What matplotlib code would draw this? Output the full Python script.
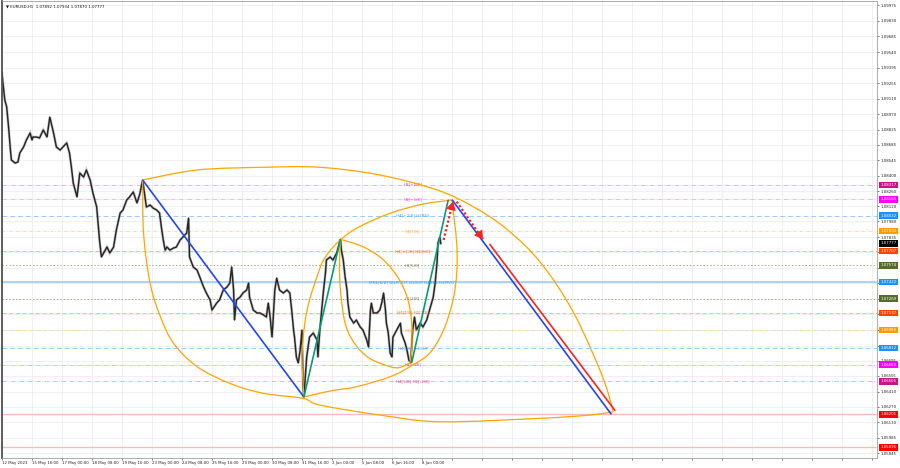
import numpy as np
import matplotlib
matplotlib.use("Agg")
import matplotlib.pyplot as plt
from matplotlib.path import Path
from matplotlib.patches import PathPatch
import matplotlib.transforms as mtrans

plt.rcParams['font.family'] = ['DejaVu Sans']

# ---------------- data (bar index = H1 bars since 12 May 2023 08:00) ----------------
price_bars = [0, 1, 3, 5, 7, 9, 10, 14, 17, 19, 23, 26, 30, 32, 33, 37, 40, 44, 48, 51,
              55, 58, 62, 65, 69, 72, 74, 76, 80, 83, 87, 90, 94, 97, 101, 104, 106, 112, 115, 119,
              122, 126, 129, 133, 136, 140, 144, 147, 150, 154, 158, 161, 165, 168, 170, 172, 174, 176, 179, 183,
              186, 190, 193, 197, 199, 200, 204, 208, 211, 215, 218, 222, 224, 229, 232, 236, 240, 243, 245, 247,
              248, 250, 254, 257, 261, 263, 264, 268, 272, 275, 279, 282, 284, 286, 288, 289, 291, 293, 296, 300,
              304, 307, 309, 311, 312, 314, 316, 318, 320, 321, 322, 325, 328, 332, 336, 337, 339, 343, 345, 346,
              350, 353, 357, 361, 362, 364, 366, 368, 369, 371, 375, 378, 382, 385, 389, 391, 393, 394, 396, 400,
              403, 405, 407, 409, 410, 412, 414, 416, 417, 421, 425, 426, 430, 432, 434, 436, 438, 440, 442, 446,
              449, 453, 457, 460, 462, 464, 465, 467, 468]
price_vals = [1.09348, 1.09256, 1.09099, 1.09035, 1.08850, 1.08638, 1.08546, 1.08518, 1.08528, 1.08611,
              1.08666, 1.08730, 1.08795, 1.08730, 1.08758, 1.08758, 1.08749, 1.08823, 1.08758, 1.08942,
              1.08795, 1.08666, 1.08638, 1.08666, 1.08703, 1.08611, 1.08482, 1.08334, 1.08205, 1.08426,
              1.08389, 1.08454, 1.08362, 1.08242, 1.08113, 1.07809, 1.07652, 1.07744, 1.07689, 1.07744,
              1.07901, 1.08057, 1.08085, 1.08177, 1.08205, 1.08251, 1.08150, 1.08233, 1.08362, 1.08113,
              1.08131, 1.08104, 1.08085, 1.08057, 1.07928, 1.07809, 1.07716, 1.07744, 1.07716, 1.07735,
              1.07744, 1.07809, 1.07836, 1.07873, 1.08011, 1.07652, 1.07560, 1.07532, 1.07467, 1.07375,
              1.07320, 1.07255, 1.07163, 1.07228, 1.07255, 1.07348, 1.07375, 1.07412, 1.07560, 1.07348,
              1.07071, 1.07255, 1.07283, 1.07320, 1.07348, 1.07412, 1.07283, 1.07163, 1.07136, 1.07136,
              1.07117, 1.07099, 1.07228, 1.07099, 1.06914, 1.07043, 1.07348, 1.07458, 1.07348, 1.07320,
              1.07348, 1.07320, 1.07163, 1.06979, 1.06914, 1.06730, 1.06675, 1.06794, 1.06979, 1.06490,
              1.06361, 1.06730, 1.06914, 1.06951, 1.06887, 1.06730, 1.06979, 1.07348, 1.07504, 1.07624,
              1.07652, 1.07624, 1.07689, 1.07815, 1.07716, 1.07624, 1.07467, 1.07348, 1.07228, 1.07099,
              1.07043, 1.07071, 1.07007, 1.06979, 1.06887, 1.06822, 1.07163, 1.07228, 1.07136, 1.07136,
              1.07163, 1.07228, 1.07320, 1.07163, 1.07043, 1.06951, 1.06767, 1.06730, 1.06914, 1.06979,
              1.07043, 1.06951, 1.06859, 1.06794, 1.06700, 1.06680, 1.06979, 1.07099, 1.06979, 1.07043,
              1.07007, 1.07071, 1.07191, 1.07283, 1.07412, 1.07597, 1.07781, 1.07836, 1.07777]

title_text = "\u25BC EURUSD,H1  1.07892 1.07934 1.07870 1.07777"
last_price = 1.07777

xtick_bars = [0, 32, 64, 96, 128, 160, 192, 224, 256, 288, 320, 352, 384, 416, 448]
xtick_labels = ["12 May 2023", "15 May 16:00", "17 May 00:00", "18 May 08:00", "19 May 16:00",
                "23 May 00:00", "24 May 08:00", "25 May 16:00", "29 May 00:00", "30 May 08:00",
                "31 May 16:00", "2 Jun 00:00", "5 Jun 08:00", "6 Jun 16:00", "8 Jun 00:00"]
future_grid_bars = [480, 512, 544, 576, 608, 640, 672, 704, 736, 768, 800, 832, 864, 896, 928]

ytick_vals = [1.09975, 1.09830, 1.09685, 1.09540, 1.09395, 1.09255, 1.09110, 1.08970, 1.08825, 1.08685,
              1.08545, 1.08400, 1.08260, 1.08120, 1.07980, 1.07835, 1.07695, 1.07550, 1.07410, 1.07265,
              1.07125, 1.06980, 1.06835, 1.06695, 1.06555, 1.06410, 1.06270, 1.06130, 1.05985, 1.05845]

level_vals = [1.08317, 1.08185, 1.08032, 1.07892, 1.07707, 1.07574, 1.07422, 1.07269, 1.07137,
              1.06980, 1.06812, 1.06659, 1.06506, 1.06201, 1.05896]
level_text = ["H1[+2/8]", "H1[+1/8]", "H4[+2/8] H1RES", "H1[7/8]", "H4[+1/8] H1[6/8]", "H1[5/8]",
              "MN1[6/8] W1PIVOT D1SUP H4RES H1PIVOT", "H1[3/8]", "H4[7/8] H1[2/8]", "H1[1/8]",
              "H4[6/8] H1SUP", "H1[-1/8]", "H4[5/8] H1[-2/8]", "", ""]
level_kind = ["violet", "magenta", "blue", "orange", "orangered", "olive", "bluesolid", "olive",
              "orangered", "orange", "blue", "magenta", "violet", "red", "red"]
level_label_bar = 438

# drawn trend lines: (bar, price) anchors
blue_line_1 = [(150, 1.08362), (322, 1.06361)]
blue_line_2 = [(480, 1.08180), (650, 1.06201)]
green_line_1 = [(322, 1.06361), (361, 1.07815)]
green_line_2 = [(437, 1.06677), (476, 1.08180)]
red_line = [(520, 1.07772), (654, 1.06235)]
red_arrow_up = [(471, 1.07809), (481, 1.08162)]
red_arrow_down = [(485, 1.08162), (513, 1.07815)]

# ellipse arcs: (bars, prices)
arc_big_upper = ([150, 208, 279, 339, 403, 464, 503, 538, 574, 609, 640, 652],
                 [1.08362, 1.08454, 1.08479, 1.08479, 1.08408, 1.08270, 1.08114, 1.07911,
                  1.07605, 1.07150, 1.06561, 1.06225])
arc_big_lower = ([150, 151, 158, 169, 183, 208, 243, 279, 321, 339, 403, 467, 574, 627, 652],
                 [1.08362, 1.07870, 1.07409, 1.07101, 1.06856, 1.06641, 1.06487, 1.06395, 1.06349,
                  1.06287, 1.06195, 1.06133, 1.06165, 1.06195, 1.06225])
arc_mid_upper = ([322, 320, 323, 328, 336, 343, 357, 378, 414, 449, 480],
                 [1.06361, 1.06733, 1.07041, 1.07255, 1.07470, 1.07624, 1.07778, 1.07916, 1.08055,
                  1.08140, 1.08177])
arc_mid_lower = ([322, 350, 378, 414, 435, 456, 471, 481, 485, 485, 480],
                 [1.06361, 1.06417, 1.06456, 1.06548, 1.06641, 1.06764, 1.06979, 1.07255, 1.07502,
                  1.07778, 1.08177])
arc_inner_right = ([361, 385, 407, 424, 433, 437, 437, 435],
                   [1.07815, 1.07747, 1.07624, 1.07440, 1.07255, 1.07041, 1.06794, 1.06675])
arc_inner_left = ([435, 424, 414, 392, 376, 366, 361, 360, 361],
                  [1.06675, 1.06633, 1.06641, 1.06718, 1.06856, 1.07041, 1.07348, 1.07578, 1.07815])

# ---------------- styles ----------------
level_style = {
    "violet":    dict(box="#C71585", line="#E8A0D0", ls=(0, (6, 2, 1, 2)), lw=0.55),
    "magenta":   dict(box="#FF00FF", line="#FF99FF", ls=(0, (6, 2, 1, 2)), lw=0.55),
    "blue":      dict(box="#1E90FF", line="#99CCFF", ls=(0, (5, 3)), lw=0.7),
    "orange":    dict(box="#FF9900", line="#FFD099", ls=(0, (4, 2, 1, 2)), lw=0.55),
    "orangered": dict(box="#FF4500", line="#FFA890", ls=(0, (5, 3)), lw=0.6),
    "olive":     dict(box="#556B2F", line="#AAAA80", ls=(0, (1.5, 2)), lw=0.7),
    "bluesolid": dict(box="#1E90FF", line="#99CCFF", ls="-", lw=1.2),
    "red":       dict(box="#FF0000", line="#FFBBBB", ls="-", lw=1.0),
}
FS = 2.8


def smooth_path(xs, ys):
    P = np.column_stack([xs, ys]).astype(float)
    n = len(P)
    verts = [P[0]]
    codes = [Path.MOVETO]
    for k in range(n - 1):
        p0 = P[k - 1] if k > 0 else P[k]
        p1 = P[k]
        p2 = P[k + 1]
        p3 = P[k + 2] if k + 2 < n else P[k + 1]
        verts += [p1 + (p2 - p0) / 6.0, p2 - (p3 - p1) / 6.0, p2]
        codes += [Path.CURVE4] * 3
    return Path(verts, codes)


fig = plt.figure(figsize=(9, 4.68), dpi=100)
ax = fig.add_axes([2 / 900, 10 / 468, 875 / 900, 457 / 468])
ax.set_xlim(0, 933.3)
ax.set_ylim(1.05799, 1.10012)

# grid & ticks
all_xticks = xtick_bars + future_grid_bars
ax.set_xticks(all_xticks)
ax.set_xticklabels(xtick_labels + [""] * len(future_grid_bars))
for lbl in ax.get_xticklabels():
    lbl.set_horizontalalignment("left")
ax.yaxis.tick_right()
ax.set_yticks(ytick_vals)
# tick labels that sit under a value box are covered in the terminal, so leave them blank
box_vals = level_vals + [last_price]
ax.set_yticklabels([("" if min(abs(v - b) for b in box_vals) < 0.00026 else f"{v:.5f}")
                    for v in ytick_vals])
ax.tick_params(axis="both", labelsize=FS, length=1.5, width=0.4, pad=1, colors="#222222")
ax.grid(True, color="#EAEAEA", lw=0.5)
ax.set_axisbelow(True)
for s in ax.spines.values():
    s.set_color("#A0A0A0")
    s.set_linewidth(0.6)
ax.spines["left"].set_color("#505050")
ax.spines["left"].set_linewidth(1.3)

# level lines + labels
for val, txt, kind in zip(level_vals, level_text, level_kind):
    st = level_style[kind]
    ax.axhline(val, color=st["line"], ls=st["ls"], lw=st["lw"], zorder=1)
    if txt:
        ax.text(level_label_bar, val, txt, color=st["box"], fontsize=3.0, ha="center", va="center",
                zorder=3, alpha=0.8)

# price (candles approximated by hourly path)
ax.plot(price_bars, price_vals, color="#9A9A9A", lw=2.0, alpha=0.5, zorder=2, solid_joinstyle="miter")
ax.plot(price_bars, price_vals, color="#262626", lw=1.05, zorder=2.1)

# ellipse arcs
for xs, ys in [arc_big_upper, arc_big_lower, arc_mid_upper, arc_mid_lower, arc_inner_right, arc_inner_left]:
    ax.add_patch(PathPatch(smooth_path(xs, ys), fill=False, edgecolor="#FFA500", lw=0.9, zorder=4))

# trend lines
for seg, col, lw in [(blue_line_1, "#2244FF", 1.2), (blue_line_2, "#2244FF", 1.2),
                     (green_line_1, "#0A9B74", 1.2), (green_line_2, "#0A9B74", 1.2),
                     (red_line, "#FF2222", 1.2)]:
    (x0, y0), (x1, y1) = seg
    ax.plot([x0, x1], [y0, y1], color=col, lw=lw, zorder=5, solid_capstyle="butt")

for seg in [red_arrow_up, red_arrow_down]:
    (x0, y0), (x1, y1) = seg
    ax.plot([x0, x1], [y0, y1], color="#FF2222", lw=1.6, ls=(0, (1, 1)), zorder=6)
    ax.annotate("", xy=(x1, y1), xytext=(x0 + 0.8 * (x1 - x0), y0 + 0.8 * (y1 - y0)),
                arrowprops=dict(arrowstyle="-|>,head_length=0.5,head_width=0.3", color="#FF2222",
                                lw=0.8, shrinkA=0, shrinkB=0), zorder=6)

# right-axis value boxes
btrans = mtrans.blended_transform_factory(ax.transAxes, ax.transData)
for val, kind in zip(level_vals, level_kind):
    ax.text(1.0 + 3.5 / 875, val, f"{val:.5f}", transform=btrans, fontsize=FS, color="white",
            ha="left", va="center", zorder=10, clip_on=False,
            bbox=dict(boxstyle="square,pad=0.35", fc=level_style[kind]["box"], ec="none"))
ax.text(1.0 + 3.5 / 875, last_price, f"{last_price:.5f}", transform=btrans, fontsize=FS, color="white",
        ha="left", va="center", zorder=10, clip_on=False,
        bbox=dict(boxstyle="square,pad=0.35", fc="black", ec="none"))

ax.text(0.004, 0.993, title_text, transform=ax.transAxes, fontsize=FS, ha="left", va="top",
        color="#111111", zorder=10)

fig.savefig("out.png", dpi=100)
